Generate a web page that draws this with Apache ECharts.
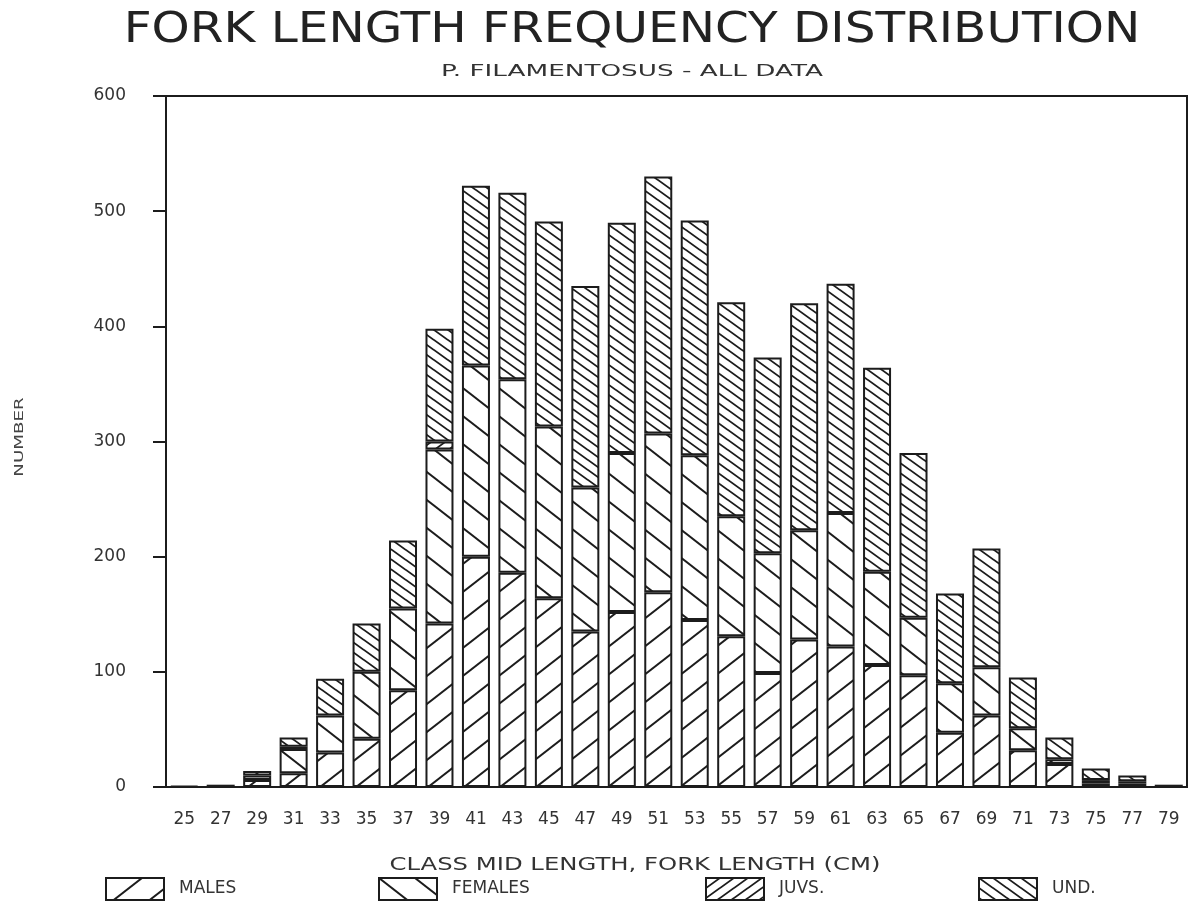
<!DOCTYPE html>
<html>
<head>
<meta charset="utf-8">
<script src="https://cdn.jsdelivr.net/npm/echarts@6/dist/echarts.min.js"></script>
<style>
  html, body { margin: 0; padding: 0; background: #fff; }
  #chart { width: 1191px; height: 904px; }
</style>
</head>
<body>
<div id="chart"></div>
<script>
// Class mid lengths (cm) and counts per class, stacked bottom to top.
const categories = ['25','27','29','31','33','35','37','39','41','43','45','47','49','51',
                    '53','55','57','59','61','63','65','67','69','71','73','75','77','79'];
const males   = [0, 0, 6, 12, 30, 42, 84, 142, 200, 186, 164, 135, 152, 169,
                 145, 131, 99, 128, 122, 106, 97, 47, 62, 32, 20, 3, 3, 0];
const females = [0, 0, 4, 21, 32, 58, 71, 151, 166, 168, 149, 125, 138, 138,
                 143, 104, 104, 95, 116, 81, 50, 43, 42, 19, 4, 3, 2, 0];
const juvs    = [0, 0, 0, 2, 0, 0, 0, 7, 0, 0, 0, 0, 0, 0,
                 0, 0, 0, 0, 0, 0, 0, 0, 0, 0, 0, 0, 0, 0];
const und     = [1, 2, 4, 8, 32, 42, 59, 98, 156, 162, 178, 175, 200, 223,
                 204, 186, 170, 197, 199, 177, 143, 78, 103, 44, 19, 10, 5, 2];
const yTicks  = { min: 0, max: 600, interval: 100 };

const INK = '#1c1c1c';
const FONT = 'DejaVu Sans';

// Diagonal hatch tile: '/' rising or '\' falling lines on white.
function hatch(w, h, dir, lw) {
  const c = document.createElement('canvas');
  c.width = w; c.height = h;
  const ctx = c.getContext('2d');
  ctx.fillStyle = '#fff';
  ctx.fillRect(0, 0, w, h);
  ctx.strokeStyle = INK;
  ctx.lineWidth = lw;
  ctx.lineCap = 'square';
  for (let k = -1; k <= 1; k++) {
    ctx.beginPath();
    if (dir === '/') { ctx.moveTo(0, h + k * h); ctx.lineTo(w, k * h); }
    else { ctx.moveTo(0, k * h); ctx.lineTo(w, h + k * h); }
    ctx.stroke();
  }
  return { image: c, repeat: 'repeat' };
}

const fills = {
  MALES: hatch(36, 28, '/', 2),
  FEMALES: hatch(36, 28, '\\', 2),
  'JUVS.': hatch(14, 10, '/', 1.8),
  'UND.': hatch(14, 10, '\\', 1.8)
};

const nz = arr => arr.map(v => (v === 0 ? null : v));

function barSeries(name, data) {
  return {
    name: name,
    type: 'bar',
    stack: 'total',
    barWidth: 28,
    data: nz(data),
    itemStyle: { color: fills[name], borderColor: INK, borderWidth: 2 },
    emphasis: { disabled: true }
  };
}

function legendAt(name, left) {
  return {
    data: [name],
    left: left,
    top: 877,
    padding: 0,
    icon: 'rect',
    itemWidth: 58,
    itemHeight: 22,
    selectedMode: false,
    itemStyle: { borderColor: INK, borderWidth: 2 },
    textStyle: { fontFamily: FONT, fontSize: 17, color: '#333', padding: [0, 0, 0, 10] }
  };
}

const chart = echarts.init(document.getElementById('chart'), null, { renderer: 'canvas' });
chart.setOption({
  animation: false,
  backgroundColor: '#fff',
  grid: {
    left: 166, top: 96, width: 1021, height: 691,
    show: true, borderColor: INK, borderWidth: 2, backgroundColor: 'transparent'
  },
  legend: [
    legendAt('MALES', 105),
    legendAt('FEMALES', 378),
    legendAt('JUVS.', 705),
    legendAt('UND.', 978)
  ],
  xAxis: {
    type: 'category',
    data: categories,
    axisLine: { lineStyle: { color: INK, width: 2 } },
    axisTick: { alignWithLabel: true, length: 12, lineStyle: { color: INK, width: 2 } },
    axisLabel: { margin: 24, fontFamily: FONT, fontSize: 17, color: '#333', interval: 0 }
  },
  yAxis: {
    type: 'value',
    min: yTicks.min, max: yTicks.max, interval: yTicks.interval,
    splitLine: { show: false },
    axisLine: { show: true, lineStyle: { color: INK, width: 2 } },
    axisTick: { show: true, length: 13, lineStyle: { color: INK, width: 2 } },
    axisLabel: { margin: 40, fontFamily: FONT, fontSize: 17, color: '#333' }
  },
  series: [
    barSeries('MALES', males),
    barSeries('FEMALES', females),
    barSeries('JUVS.', juvs),
    barSeries('UND.', und)
  ],
  graphic: [
    {
      type: 'text', x: 632, y: 31, scaleX: 1.155,
      style: { text: 'FORK LENGTH FREQUENCY DISTRIBUTION', fontFamily: FONT, fontSize: 42,
               fill: '#222', align: 'center', verticalAlign: 'middle' }
    },
    {
      type: 'text', x: 632, y: 72, scaleX: 1.75,
      style: { text: 'P. FILAMENTOSUS - ALL DATA', fontFamily: FONT, fontSize: 15,
               fill: '#333', align: 'center', verticalAlign: 'middle' }
    },
    {
      type: 'text', x: 20, y: 437, rotation: Math.PI / 2, scaleX: 1.4,
      style: { text: 'NUMBER', fontFamily: FONT, fontSize: 13,
               fill: '#444', align: 'center', verticalAlign: 'middle' }
    },
    {
      type: 'text', x: 635, y: 866, scaleX: 1.43,
      style: { text: 'CLASS MID LENGTH, FORK LENGTH (CM)', fontFamily: FONT, fontSize: 17,
               fill: '#333', align: 'center', verticalAlign: 'middle' }
    }
  ]
});
</script>
</body>
</html>
